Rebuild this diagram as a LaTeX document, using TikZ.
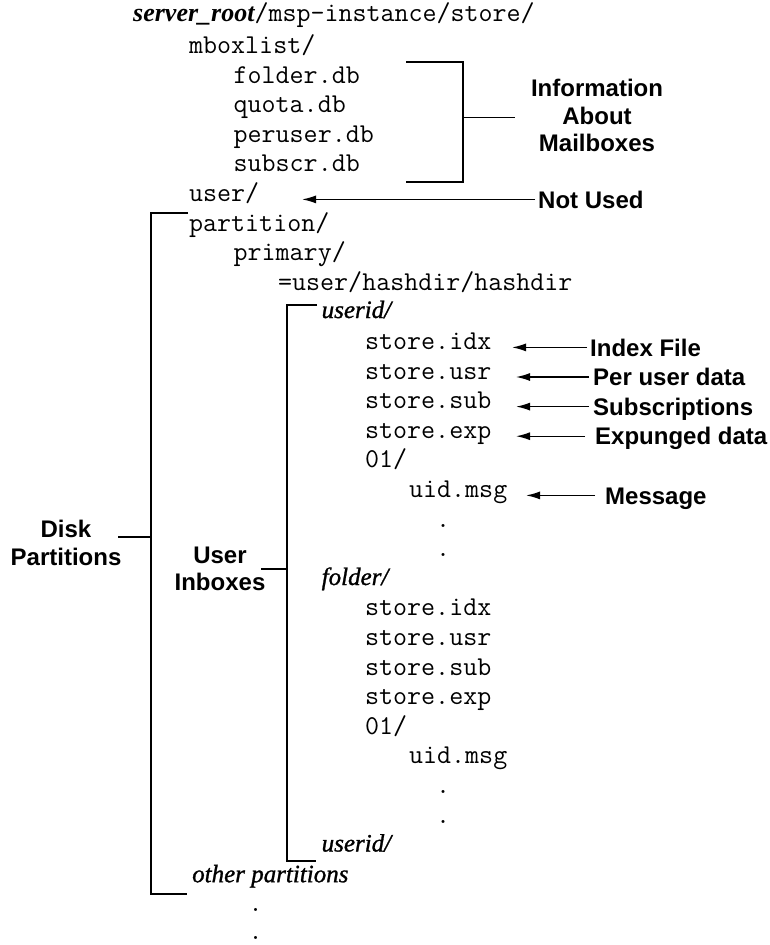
\documentclass[tikz,border=0pt]{standalone}
\usepackage{fontspec}
\setmainfont{Liberation Serif}
\setsansfont{Liberation Sans}
\newfontfamily\dirfont{Liberation Serif}[FakeBold=1.1]
\usetikzlibrary{arrows.meta}

\begin{document}
\begin{tikzpicture}[x=1pt,y=-1pt,
  code/.style={font=\ttfamily\fontsize{27.2}{30}\selectfont, anchor=base west, inner sep=0pt},
  dirname/.style={font=\dirfont\itshape\fontsize{25}{30}\selectfont, anchor=base west, inner sep=0pt},
  ellip/.style={font=\ttfamily\fontsize{27.2}{30}\selectfont, anchor=base, inner sep=0pt},
  note/.style={font=\sffamily\bfseries\fontsize{24}{27.4}\selectfont, inner sep=0pt, align=center},
  tag/.style={font=\sffamily\bfseries\fontsize{24}{27.4}\selectfont, inner sep=0pt,
              anchor=west, text height=17.2pt, text depth=0pt},
  bracket/.style={line width=1.3pt},
  pointer/.style={line width=1.4pt, -{Latex[length=14pt,width=8pt]}},
]
\fill[white] (0,0) rectangle (770,945);
\useasboundingbox (0,0) rectangle (770,945);

% directory tree
\node[code] (root) at (133,21)
  {{\rmfamily\bfseries\itshape\fontsize{26}{30}\selectfont server\_root}/msp-instance/store/};
\node[code] (mbox) at (189,53.4) {mboxlist/};
\node[code] (fdb)  at (233.5,83)    {folder.db};
\node[code] (qdb)  at (233.5,112.6) {quota.db};
\node[code] (pdb)  at (233.5,142.2) {peruser.db};
\node[code] (sdb)  at (233.5,171.8) {subscr.db};
\node[code] (user) at (189,201.4)   {user/};
\node[code] (part) at (189,231)     {partition/};
\node[code] (prim) at (233.5,260.6) {primary/};
\node[code] (hash) at (278,290.2)   {=user/hashdir/hashdir};

\node[dirname] (uidA) at (321.5,318) {userid/};
\node[code] (idxA) at (365,349.4) {store.idx};
\node[code] (usrA) at (365,379)   {store.usr};
\node[code] (subA) at (365,408.6) {store.sub};
\node[code] (expA) at (365,438.2) {store.exp};
\node[code] (numA) at (365,467.8) {01/};
\node[code] (msgA) at (409,497.4) {uid.msg};
\node[ellip] (dA1) at (443,527)   {.};
\node[ellip] (dA2) at (443,556.6) {.};

\node[dirname] (fold) at (321.5,585) {folder/};
\node[code] (idxB) at (365,615.8) {store.idx};
\node[code] (usrB) at (365,645.4) {store.usr};
\node[code] (subB) at (365,675)   {store.sub};
\node[code] (expB) at (365,704.6) {store.exp};
\node[code] (numB) at (365,734.2) {01/};
\node[code] (msgB) at (409,763.8) {uid.msg};
\node[ellip] (dB1) at (443,793.4) {.};
\node[ellip] (dB2) at (443,823)   {.};

\node[dirname] (uidB)  at (321.5,851.5) {userid/};
\node[dirname] (other) at (192,882.2)   {other partitions};
\node[ellip] (dC1) at (255.7,911) {.};
\node[ellip] (dC2) at (255.7,939.5) {.};

% annotations
\node[note] (info)  at (597,115.6) {Information\\About\\Mailboxes};
\node[note] (disk)  at (66,543)    {Disk\\Partitions};
\node[note] (inbox) at (220,569)   {User\\Inboxes};

\node[tag] (lUser) at (538,199.4) {Not Used};
\node[tag] (lIdx)  at (590,347.4) {Index File};
\node[tag] (lUsr)  at (593,377)   {Per user data};
\node[tag] (lSub)  at (593,406.6) {Subscriptions};
\node[tag] (lExp)  at (595,436.2) {Expunged data};
\node[tag] (lMsg)  at (605,495.4) {Message};

% bracket around the mailbox list databases
\coordinate (iTop)  at (406,62);
\coordinate (iTopR) at (463,62);
\coordinate (iBotR) at (463,182);
\coordinate (iBot)  at (406,182);
\coordinate (iMid)  at (463,117.7);
\coordinate (iEnd)  at (515,117.7);
\draw[bracket] (iTop) -- (iTopR) -- (iBotR) -- (iBot);
\draw[bracket] (iMid) -- (iEnd);

% bracket spanning the disk partitions
\coordinate (dTop)  at (188,213);
\coordinate (dTopL) at (151,213);
\coordinate (dBotL) at (151,894);
\coordinate (dBot)  at (187,894);
\coordinate (dMid)  at (151,537);
\coordinate (dEnd)  at (118,537);
\draw[bracket] (dTop) -- (dTopL) -- (dBotL) -- (dBot);
\draw[bracket] (dMid) -- (dEnd);

% bracket spanning the user inboxes
\coordinate (uTop)  at (317,305);
\coordinate (uTopL) at (287,305);
\coordinate (uBotL) at (287,861);
\coordinate (uBot)  at (316,861);
\coordinate (uMid)  at (287,569);
\coordinate (uEnd)  at (261,569);
\draw[bracket] (uTop) -- (uTopL) -- (uBotL) -- (uBot);
\draw[bracket] (uMid) -- (uEnd);

% pointers from the descriptions to the files
\coordinate (tUser) at (302,199.4);
\coordinate (tIdx)  at (512,347.4);
\coordinate (tUsr)  at (516,377);
\coordinate (tSub)  at (516,406.6);
\coordinate (tExp)  at (516,436.2);
\coordinate (tMsg)  at (526,495.4);
\draw[pointer] ([xshift=-3pt]lUser.west) -- (tUser);
\draw[pointer] ([xshift=-3pt]lIdx.west)  -- (tIdx);
\draw[pointer] ([xshift=-4pt]lUsr.west)  -- (tUsr);
\draw[pointer] ([xshift=-4pt]lSub.west)  -- (tSub);
\draw[pointer] ([xshift=-10pt]lExp.west) -- (tExp);
\draw[pointer] ([xshift=-10pt]lMsg.west) -- (tMsg);
\end{tikzpicture}
\end{document}
